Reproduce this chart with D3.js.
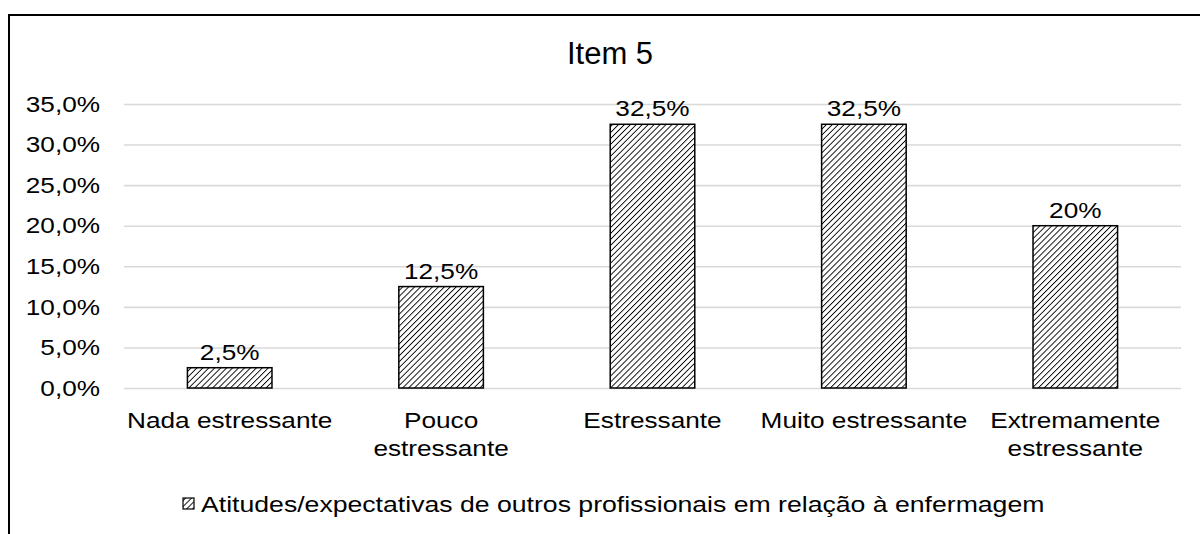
<!DOCTYPE html>
<html><head><meta charset="utf-8">
<script src="https://cdn.jsdelivr.net/npm/d3@7"></script>
<style>body{margin:0;background:#fff}svg{display:block}text{font-family:"Liberation Sans",Arial,sans-serif;fill:#000}</style>
</head><body><svg id="c" width="1200" height="534"></svg>
<script>
const title = "Item 5";
const categories = [["Nada estressante"],["Pouco","estressante"],["Estressante"],["Muito estressante"],["Extremamente","estressante"]];
const values = [2.5, 12.5, 32.5, 32.5, 20];
const valueLabels = ["2,5%","12,5%","32,5%","32,5%","20%"];
const yTicks = [0,5,10,15,20,25,30,35];
const seriesName = "Atitudes/expectativas de outros profissionais em relação à enfermagem";

function stretch(sel, f){
  f = f || 1.19;
  sel.each(function(){
    const L = this.getComputedTextLength();
    d3.select(this).attr("textLength", L*f).attr("lengthAdjust","spacingAndGlyphs");
  });
}

const svg = d3.select("#c");
const defs = svg.append("defs");
const P = 4.2;
const pat = defs.append("pattern").attr("id","hatch").attr("patternUnits","userSpaceOnUse")
  .attr("width",P).attr("height",P).attr("patternTransform","rotate(45)");
pat.append("rect").attr("width",P).attr("height",P).attr("fill","#fff");
pat.append("line").attr("x1",0).attr("y1",0).attr("x2",0).attr("y2",P).attr("stroke","#000").attr("stroke-width",1.8);

// frame
svg.append("path").attr("d","M9,534 V15 H1200").attr("fill","none").attr("stroke","#000").attr("stroke-width",2);

const x = d3.scaleBand().domain(d3.range(categories.length)).range([124,1181]).paddingInner(0.6).paddingOuter(0.3);
const y = d3.scaleLinear().domain([0,35]).range([388,104]);
const fmt = d=>d.toFixed(1).replace(".",",")+"%";

svg.append("text").attr("x",610).attr("y",64).attr("text-anchor","middle").attr("font-size",31).text(title);

const yAxis = svg.append("g").attr("transform","translate(124,0)")
  .call(d3.axisLeft(y).tickValues(yTicks).tickSize(-1057).tickFormat(""));
yAxis.select(".domain").remove();
yAxis.selectAll(".tick line").attr("stroke","#d9d9d9").attr("stroke-width",1.6);

// tick labels (right edge at x=100)
svg.append("g").selectAll("g").data(yTicks).join("g")
  .attr("transform",d=>`translate(100,${y(d)}) scale(1.19,1)`)
  .append("text").attr("text-anchor","end").attr("dy","0.35em").attr("font-size",22).text(fmt);

svg.append("g").selectAll("rect").data(values).join("rect")
  .attr("x",(d,i)=>x(i)).attr("width",x.bandwidth())
  .attr("y",d=>y(d)).attr("height",d=>y(0)-y(d))
  .attr("fill","url(#hatch)").attr("stroke","#000").attr("stroke-width",1.5);

svg.append("g").selectAll("text").data(values).join("text")
  .attr("x",(d,i)=>x(i)+x.bandwidth()/2).attr("y",d=>y(d)-8)
  .attr("text-anchor","middle").attr("font-size",22).text((d,i)=>valueLabels[i]).call(stretch);

const lines = [];
categories.forEach((c,i)=>c.forEach((t,j)=>lines.push({i,j,t})));
svg.append("g").selectAll("text").data(lines).join("text")
  .attr("x",d=>x(d.i)+x.bandwidth()/2).attr("y",d=>428+d.j*28).attr("text-anchor","middle").attr("font-size",22)
  .text(d=>d.t).call(stretch);

const lg = svg.append("g");
lg.append("rect").attr("x",183).attr("y",498).attr("width",11).attr("height",11).attr("fill","url(#hatch)").attr("stroke","#000").attr("stroke-width",1.2);
lg.append("text").attr("x",201).attr("y",512).attr("font-size",22).text(seriesName).call(stretch, 1.21);
</script></body></html>
